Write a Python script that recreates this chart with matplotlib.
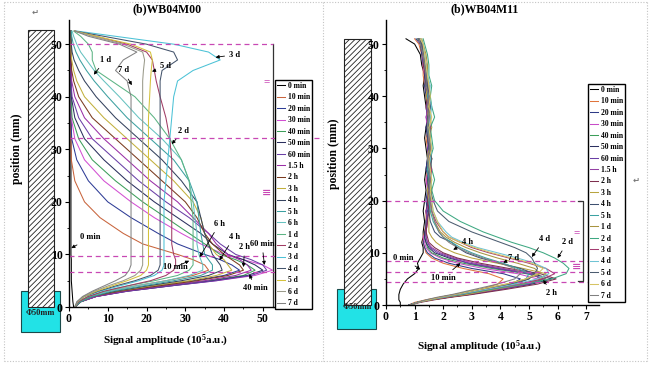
import matplotlib.pyplot as plt
import matplotlib.ticker as mticker
from matplotlib.patches import Rectangle
from matplotlib.lines import Line2D

# --- fontes (serif negrito, como no original) ---
plt.rcParams['font.family'] = ['Liberation Serif', 'DejaVu Serif']
plt.rcParams['font.weight'] = 'bold'
plt.rcParams['axes.labelweight'] = 'bold'
plt.rcParams['mathtext.fontset'] = 'custom'
plt.rcParams['mathtext.rm'] = 'Liberation Serif:bold'
plt.rcParams['mathtext.it'] = 'Liberation Serif:bold'
plt.rcParams['mathtext.bf'] = 'Liberation Serif:bold'
plt.rcParams['hatch.linewidth'] = 0.6

# ================= dados: WB04M00 (painel esquerdo) =================
pos_m00 = [0, 1, 2, 3, 4, 5, 6, 7, 8, 9, 10, 12, 14, 17, 20, 24, 28, 32, 36, 40, 43, 45, 47, 48.5, 50, 51.5, 52.5]

m00_0min = [1.2, 1.0, 0.9, 0.8, 0.7, 0.6, 0.6, 0.6, 0.6, 0.6, 0.5, 0.5, 0.5, 0.5, 0.5, 0.5, 0.5, 0.5, 0.5, 0.5, 0.5, 0.5, 0.5, 0.5, 0.5, 0.5, 0.6]
m00_10min = [1.5, 2.5, 5, 10, 17, 25, 32, 36, 35, 32, 28, 19, 14, 8, 4, 1.5, 0.6, 0.5, 0.5, 0.5, 0.5, 0.5, 0.5, 0.5, 0.5, 0.5, 0.5]
m00_20min = [1.5, 3, 6, 13, 22, 32, 40, 44, 42, 39, 35, 28, 23, 16, 10, 5, 2, 0.7, 0.5, 0.5, 0.5, 0.5, 0.5, 0.5, 0.5, 0.5, 0.5]
m00_30min = [1.5, 3, 7, 15, 26, 38, 48, 52.5, 50, 45, 40, 34, 29, 22, 16, 9, 4, 1.5, 0.6, 0.5, 0.5, 0.5, 0.5, 0.5, 0.5, 0.5, 0.5]
m00_40min = [1.5, 3, 7, 14, 25, 36, 45, 48, 46, 43, 39, 35, 31, 25, 19, 12, 6, 2.5, 0.8, 0.5, 0.5, 0.5, 0.5, 0.5, 0.5, 0.5, 0.5]
m00_50min = [1.5, 3, 7, 15, 26, 37, 46, 50, 48, 45, 41, 37, 34, 28, 22, 15, 9, 4, 1.5, 0.6, 0.5, 0.5, 0.5, 0.5, 0.5, 0.5, 0.5]
m00_60min = [1.5, 3, 7, 15, 26, 38, 47, 51, 50, 47, 43, 39, 36, 31, 25, 18, 12, 6, 2.5, 0.8, 0.5, 0.5, 0.5, 0.5, 0.5, 0.5, 0.5]
m00_1h5 = [1.5, 3, 7, 14, 24, 35, 43, 47, 46, 44, 41, 38, 36, 32, 28, 21, 15, 9, 4, 1.5, 0.7, 0.5, 0.5, 0.5, 0.5, 0.5, 0.5]
m00_2h = [1.5, 3, 6, 13, 23, 33, 41, 45, 44, 42, 40, 37, 35, 33, 30, 24, 18, 12, 6, 2.5, 1.2, 0.7, 0.5, 0.5, 0.5, 0.5, 0.5]
m00_3h = [1.5, 3, 6, 12, 21, 31, 38, 42, 41, 40, 38, 36, 35, 34, 32, 27, 21, 15, 9, 4, 2, 1.2, 0.7, 0.5, 0.5, 0.5, 0.5]
m00_4h = [1.5, 3, 6, 12, 20, 29, 36, 39.5, 39, 38, 37, 36, 35, 34, 33, 29, 24, 18, 12, 7, 4, 2.5, 1.3, 0.8, 0.6, 0.5, 0.5]
m00_5h = [1.5, 3, 6, 11, 19, 27, 34, 37, 37, 36, 35, 34.5, 34, 33.5, 33, 31, 27, 21, 15, 10, 6.5, 4.5, 2.8, 1.8, 1.1, 0.7, 0.6]
m00_6h = [1.5, 2.5, 5, 10, 17, 25, 31, 34.5, 34.5, 34, 33.5, 33, 33, 32.5, 32, 31, 29, 24, 18, 13, 9, 6.5, 4.5, 3, 2, 1.2, 0.8]
m00_1d = [1.5, 2.5, 5, 9, 15, 22, 28, 31, 32, 32, 32, 32, 32, 32, 31.5, 31, 29, 26, 22, 17, 11, 7, 6, 6, 5, 3, 1.2]
m00_2d = [1.5, 2.5, 5, 9, 15, 21, 25, 27, 27.5, 27.5, 27, 26.5, 26.5, 26.5, 26.5, 26.5, 26.5, 26, 25, 23.5, 22.5, 22, 21.5, 20, 15, 7, 1.5]
m00_3d = [1.5, 2.2, 4, 8, 13, 18, 22, 24, 24.5, 24.5, 24.5, 24.5, 24.5, 24.5, 24.5, 25, 25.5, 26, 26.5, 27, 28, 32, 39, 36, 27, 12, 2]
m00_4d = [1.5, 2.2, 4, 7.5, 12, 17, 21, 23, 23.5, 23.5, 23.5, 23.5, 23.5, 23.5, 23.5, 23.5, 23.5, 23.5, 23.5, 23.5, 23.5, 24, 28, 27, 20, 9, 1.5]
m00_5d = [1.5, 2.2, 4, 7, 11, 15, 18.5, 20, 20.5, 20.5, 20.5, 20.5, 20.5, 20.5, 20.5, 20.5, 20.5, 20.5, 20.5, 20.8, 21, 21.2, 21.5, 21, 16, 7, 1.5]
m00_6d = [1.5, 2.2, 3.8, 6.5, 10, 14, 17, 18.5, 19, 19, 19, 19, 19, 19, 19, 19, 19, 19, 19, 19, 19, 19.2, 19.5, 19, 14, 6, 1.5]
m00_7d = [1.5, 2, 3.5, 6, 9, 12, 14.5, 15.5, 16, 16, 16, 16, 16, 16, 16, 16, 16, 16, 16, 16, 15, 12, 14, 17.5, 13, 5, 1.5]

m00_labels = ['0 min', '10 min', '20 min', '30 min', '40 min', '50 min', '60 min', '1.5 h', '2 h', '3 h',
              '4 h', '5 h', '6 h', '1 d', '2 d', '3 d', '4 d', '5 d', '6 d', '7 d']
m00_colors = ['#000000', '#c8643c', '#2e3c96', '#d24fd2', '#3c9e5a', '#2a2f5e', '#6a3fa6', '#9a2fa6',
              '#7a3a1e', '#c2b03c', '#34425e', '#3ca0a0', '#66c2c0', '#5cb484', '#a03c64', '#4cc2d6',
              '#44546c', '#d4c23c', '#9a9a8a', '#828282']
m00_refs = [50, 32.1, 9.7, 6.7]

# ================= dados: WB04M11 (painel direito) =================
pos_m11 = [0, 0.5, 1, 1.5, 2, 3, 4, 5, 6, 7, 8, 9, 10, 11, 12, 13, 14, 16, 18, 20,
           22, 24, 26, 28, 30, 32, 34, 36, 38, 40, 42, 44, 46, 48, 50, 51]

m11_0min = [0.5, 0.5, 0.45, 0.45, 0.45, 0.5, 0.6, 0.75, 1.0, 1.15, 1.1, 1.2, 1.3, 1.3, 1.25, 1.3, 1.3, 1.35, 1.3, 1.35,
            1.4, 1.35, 1.4, 1.45, 1.4, 1.35, 1.4, 1.45, 1.4, 1.35, 1.3, 1.35, 1.25, 1.2, 1.0, 0.7]
m11_10min = [0.8, 1.0, 1.4, 1.9, 2.4, 3.3, 3.9, 4.1, 3.6, 2.7, 2.0, 1.6, 1.4, 1.35, 1.3, 1.3, 1.35, 1.4, 1.4, 1.45,
             1.5, 1.4, 1.45, 1.5, 1.45, 1.4, 1.5, 1.45, 1.4, 1.45, 1.35, 1.3, 1.3, 1.25, 1.15, 1.0]
m11_20min = [0.8, 1.1, 1.5, 2.0, 2.6, 3.6, 4.4, 4.7, 4.1, 3.0, 2.2, 1.7, 1.45, 1.35, 1.3, 1.35, 1.4, 1.4, 1.45, 1.4,
             1.45, 1.5, 1.4, 1.45, 1.5, 1.45, 1.4, 1.5, 1.45, 1.4, 1.35, 1.4, 1.3, 1.25, 1.2, 1.05]
m11_30min = [0.8, 1.1, 1.5, 2.1, 2.7, 3.8, 4.8, 5.3, 4.6, 3.4, 2.5, 1.9, 1.55, 1.4, 1.35, 1.3, 1.4, 1.45, 1.4, 1.5,
             1.45, 1.4, 1.5, 1.55, 1.45, 1.5, 1.45, 1.4, 1.5, 1.45, 1.4, 1.35, 1.3, 1.3, 1.2, 1.1]
m11_40min = [0.8, 1.1, 1.5, 2.1, 2.8, 3.9, 5.0, 5.6, 4.9, 3.7, 2.7, 2.0, 1.6, 1.45, 1.4, 1.35, 1.4, 1.4, 1.5, 1.45,
             1.55, 1.5, 1.45, 1.6, 1.5, 1.45, 1.5, 1.55, 1.45, 1.5, 1.4, 1.45, 1.35, 1.3, 1.25, 1.1]
m11_50min = [0.8, 1.1, 1.6, 2.2, 2.9, 4.0, 5.1, 5.8, 5.1, 3.9, 2.9, 2.2, 1.7, 1.5, 1.4, 1.35, 1.35, 1.45, 1.4, 1.5,
             1.45, 1.55, 1.5, 1.45, 1.55, 1.5, 1.4, 1.5, 1.55, 1.45, 1.4, 1.35, 1.4, 1.3, 1.2, 1.15]
m11_60min = [0.85, 1.1, 1.6, 2.2, 2.9, 4.0, 5.0, 5.5, 5.0, 3.9, 2.9, 2.3, 1.8, 1.55, 1.45, 1.4, 1.4, 1.4, 1.5, 1.45,
             1.5, 1.45, 1.55, 1.5, 1.45, 1.55, 1.5, 1.45, 1.4, 1.5, 1.45, 1.4, 1.35, 1.35, 1.25, 1.2]
m11_1h5 = [0.85, 1.1, 1.6, 2.2, 2.8, 3.9, 4.9, 5.4, 5.1, 4.1, 3.1, 2.4, 1.9, 1.6, 1.45, 1.4, 1.4, 1.45, 1.4, 1.55,
           1.5, 1.45, 1.5, 1.6, 1.5, 1.45, 1.5, 1.4, 1.5, 1.45, 1.5, 1.4, 1.35, 1.3, 1.25, 1.2]
m11_2h = [0.85, 1.2, 1.7, 2.3, 3.0, 4.2, 5.3, 5.95, 5.4, 4.3, 3.3, 2.5, 2.0, 1.7, 1.5, 1.45, 1.4, 1.45, 1.5, 1.45,
          1.5, 1.55, 1.45, 1.5, 1.6, 1.5, 1.45, 1.5, 1.45, 1.4, 1.45, 1.4, 1.3, 1.35, 1.25, 1.15]
m11_3h = [0.85, 1.1, 1.6, 2.1, 2.8, 3.8, 4.8, 5.4, 5.6, 4.8, 3.9, 3.0, 2.4, 2.0, 1.75, 1.6, 1.5, 1.5, 1.55, 1.5,
          1.45, 1.5, 1.55, 1.45, 1.5, 1.55, 1.5, 1.45, 1.5, 1.4, 1.45, 1.4, 1.35, 1.3, 1.25, 1.2]
m11_4h = [0.85, 1.1, 1.5, 2.0, 2.6, 3.6, 4.5, 5.0, 5.2, 4.7, 4.0, 3.3, 2.8, 2.5, 2.3, 1.9, 1.7, 1.55, 1.5, 1.55,
          1.5, 1.45, 1.5, 1.55, 1.5, 1.45, 1.5, 1.55, 1.45, 1.5, 1.4, 1.45, 1.35, 1.3, 1.2, 1.15]
m11_5h = [0.85, 1.1, 1.5, 2.0, 2.5, 3.5, 4.4, 4.9, 5.0, 4.6, 4.1, 3.5, 3.0, 2.6, 2.3, 2.0, 1.85, 1.65, 1.55, 1.5,
          1.55, 1.5, 1.45, 1.5, 1.55, 1.5, 1.45, 1.5, 1.55, 1.45, 1.5, 1.4, 1.4, 1.35, 1.25, 1.2]
m11_1d = [0.85, 1.1, 1.5, 1.9, 2.4, 3.3, 4.2, 4.9, 5.4, 5.2, 4.6, 3.9, 3.3, 2.8, 2.4, 2.1, 1.9, 1.7, 1.6, 1.55,
          1.6, 1.55, 1.5, 1.6, 1.55, 1.5, 1.6, 1.55, 1.5, 1.55, 1.5, 1.45, 1.45, 1.4, 1.3, 1.25]
m11_2d = [0.85, 1.1, 1.5, 2.0, 2.6, 3.7, 4.8, 5.8, 6.3, 6.4, 6.2, 5.9, 5.5, 5.0, 4.4, 3.9, 3.4, 2.6, 2.0, 1.7,
          1.6, 1.7, 1.6, 1.55, 1.65, 1.6, 1.55, 1.7, 1.6, 1.55, 1.6, 1.5, 1.5, 1.45, 1.35, 1.3]
m11_3d = [0.85, 1.1, 1.5, 2.0, 2.5, 3.5, 4.6, 5.5, 5.9, 5.6, 5.0, 4.3, 3.6, 3.0, 2.6, 2.2, 2.0, 1.75, 1.6, 1.55,
          1.5, 1.55, 1.6, 1.5, 1.55, 1.5, 1.55, 1.5, 1.45, 1.5, 1.45, 1.4, 1.4, 1.3, 1.25, 1.2]
m11_4d = [0.85, 1.1, 1.5, 2.0, 2.5, 3.5, 4.5, 5.3, 5.7, 5.6, 5.2, 4.6, 3.9, 3.2, 2.7, 2.3, 2.1, 1.8, 1.65, 1.6,
          1.55, 1.6, 1.5, 1.55, 1.6, 1.55, 1.5, 1.55, 1.6, 1.5, 1.55, 1.45, 1.4, 1.35, 1.3, 1.2]
m11_5d = [0.85, 1.1, 1.5, 1.9, 2.4, 3.3, 4.3, 5.0, 5.2, 5.3, 5.2, 5.1, 4.9, 4.5, 4.0, 3.5, 3.0, 2.2, 1.8, 1.65,
          1.55, 1.5, 1.55, 1.6, 1.5, 1.55, 1.5, 1.45, 1.55, 1.5, 1.45, 1.4, 1.35, 1.3, 1.25, 1.15]
m11_6d = [0.85, 1.1, 1.5, 1.9, 2.4, 3.3, 4.2, 4.9, 5.3, 5.5, 5.1, 4.4, 3.7, 3.1, 2.6, 2.2, 2.0, 1.8, 1.65, 1.6,
          1.55, 1.6, 1.55, 1.5, 1.6, 1.55, 1.5, 1.6, 1.5, 1.55, 1.5, 1.45, 1.4, 1.35, 1.3, 1.2]
m11_7d = [0.85, 1.1, 1.4, 1.8, 2.3, 3.1, 3.9, 4.5, 4.7, 4.5, 4.0, 3.4, 2.9, 2.5, 2.2, 2.0, 1.85, 1.7, 1.6, 1.55,
          1.5, 1.55, 1.5, 1.45, 1.55, 1.5, 1.45, 1.5, 1.45, 1.5, 1.4, 1.4, 1.35, 1.3, 1.2, 1.15]

m11_labels = ['0 min', '10 min', '20 min', '30 min', '40 min', '50 min', '60 min', '1.5 h', '2 h', '3 h',
              '4 h', '5 h', '1 d', '2 d', '3 d', '4 d', '5 d', '6 d', '7 d']
m11_colors = ['#000000', '#e0743c', '#2e3a86', '#c84cc8', '#3c9e5a', '#2c3060', '#6a3fa6', '#9440a4',
              '#7e2f4e', '#b8a440', '#3e5070', '#3ca2a2', '#a89440', '#3ea882', '#a43c70', '#70c4d4',
              '#4c5c70', '#d6c464', '#808080']
m11_refs = [20, 8.4, 6.4, 4.4]

W, H = 650, 366


def fx(px):
    return px / W


def fy(py):
    return 1 - py / H


def desenhar_coluna(fig, rect, caixa, texto_y, cx):
    # caixa ciano (reservatorio) por baixo da coluna hachurada; tudo atras dos eixos
    fig.add_artist(Rectangle((fx(caixa[0]), fy(caixa[3])), fx(caixa[2] - caixa[0]), (caixa[3] - caixa[1]) / H,
                             transform=fig.transFigure, facecolor='#22e2e6', edgecolor='#1a4a4a', lw=0.8,
                             zorder=-2))
    fig.add_artist(Rectangle((fx(rect[0]), fy(rect[3])), fx(rect[2] - rect[0]), (rect[3] - rect[1]) / H,
                             transform=fig.transFigure, facecolor='white', edgecolor='#222222', lw=0.8,
                             hatch='//////', zorder=-1))
    fig.text(fx(cx), fy(texto_y), '\u03a650mm', fontsize=6, ha='center', va='center', color='#222222')


def desenhar_painel(ax, pos, curvas, rotulos, cores, xmax, xstep, ymax):
    for vals, rot, cor in zip(curvas, rotulos, cores):
        ax.plot(vals, pos, color=cor, lw=0.75, label=rot)
    ax.set_xlim(0, xmax)
    ax.set_ylim(0, ymax)
    ax.spines['top'].set_visible(False)
    ax.spines['right'].set_visible(False)
    for s in ('left', 'bottom'):
        ax.spines[s].set_linewidth(1.0)
    ax.xaxis.set_major_locator(mticker.MultipleLocator(xstep))
    ax.xaxis.set_minor_locator(mticker.MultipleLocator(xstep / 2))
    ax.set_xticks([t for t in ax.get_xticks() if t <= xmax - xstep * 0.4 and t >= 0])
    ax.yaxis.set_major_locator(mticker.FixedLocator([0, 10, 20, 30, 40, 50]))
    ax.yaxis.set_minor_locator(mticker.FixedLocator([5, 15, 25, 35, 45]))
    ax.tick_params(which='major', direction='out', length=3, width=0.8, labelsize=8.5, pad=1.5)
    ax.tick_params(which='minor', direction='out', length=1.5, width=0.6)
    ax.xaxis.set_major_formatter(mticker.FuncFormatter(lambda v, _: '{:g}'.format(v)))


def anotar(ax, itens):
    for txt, xyt, xy in itens:
        ax.annotate(txt, xy=xy, xytext=xyt, fontsize=6, ha='center', va='center',
                    arrowprops=dict(arrowstyle='-|>', color='k', lw=0.6, mutation_scale=5,
                                    shrinkA=1.5, shrinkB=0))


if __name__ == "__main__":
    fig = plt.figure(figsize=(6.5, 3.66), dpi=100)

    # molduras pontilhadas do documento
    for xs, ys in [((4, 647), (2, 2)), ((4, 647), (361, 361)), ((4, 4), (2, 361)),
                   ((323, 323), (2, 361)), ((647, 647), (2, 361))]:
        fig.add_artist(Line2D([fx(xs[0]), fx(xs[1])], [fy(ys[0]), fy(ys[1])], transform=fig.transFigure,
                              ls=(0, (1, 1.5)), color='#c4c4c4', lw=0.8, zorder=-3))

    desenhar_coluna(fig, (28, 30, 54, 307), (21, 291, 60, 332), 313, 40)
    desenhar_coluna(fig, (344, 39, 371, 305), (337, 289, 376, 329), 307, 357)

    # ---------------- painel esquerdo ----------------
    ax1 = fig.add_axes([fx(69), fy(307), (283 - 69) / W, (307 - 20) / H])
    ax1.patch.set_alpha(0)
    curvas_m00 = [m00_0min, m00_10min, m00_20min, m00_30min, m00_40min, m00_50min, m00_60min, m00_1h5,
                  m00_2h, m00_3h, m00_4h, m00_5h, m00_6h, m00_1d, m00_2d, m00_3d, m00_4d, m00_5d, m00_6d, m00_7d]
    desenhar_painel(ax1, pos_m00, curvas_m00, m00_labels, m00_colors, 55.2, 10, 54.6)
    rosa = '#c848b4'
    ax1.plot([52.6, 52.6], [0, 50], color='#333333', lw=0.9, clip_on=False)
    ax1.plot([0, 52.6], [m00_refs[0]] * 2, ls=(0, (4, 3)), color=rosa, lw=0.9)
    ax1.plot([0, 65.2], [m00_refs[1]] * 2, ls=(0, (4, 3)), color=rosa, lw=0.9, clip_on=False)
    ax1.plot([0, 53.5], [m00_refs[2]] * 2, ls=(0, (4, 3)), color=rosa, lw=0.9)
    ax1.plot([0, 53.5], [m00_refs[3]] * 2, ls=(0, (4, 3)), color=rosa, lw=0.9)
    ax1.text(51, 42.8, '=', color=rosa, fontsize=8, ha='center', va='center', clip_on=False)
    ax1.text(51, 21.7, '\u2261', color=rosa, fontsize=8, ha='center', va='center', clip_on=False,
             family='DejaVu Sans')
    anotar(ax1, [('0 min', (5.6, 13.3), (0.6, 11.2)),
                 ('10 min', (27.5, 7.6), (31.0, 8.8)),
                 ('40 min', (48.2, 3.6), (46.5, 6.2)),
                 ('60 min', (49.8, 12.0), (50.4, 8.0)),
                 ('2 h', (45.3, 11.4), (45.0, 7.6)),
                 ('4 h', (42.6, 13.3), (38.8, 8.9)),
                 ('6 h', (38.8, 15.8), (33.7, 9.5)),
                 ('3 d', (42.8, 48.0), (37.8, 47.5)),
                 ('1 d', (9.4, 47.0), (6.4, 44.2)),
                 ('7 d', (14.0, 45.0), (16.2, 42.2)),
                 ('5 d', (25.0, 45.8), (21.4, 44.8)),
                 ('2 d', (29.5, 33.5), (26.5, 31.0))])
    ax1.set_ylabel('position (mm)', fontsize=8.5)
    ax1.yaxis.set_label_coords(-0.215, 0.55)
    ax1.set_xlabel('Signal amplitude (10$^5$a.u.)', fontsize=8)
    ax1.xaxis.set_label_coords(0.45, -0.09)
    fig.text(fx(167), fy(9), '(b)WB04M00', fontsize=8.5, ha='center', va='center')
    ax1.legend(loc='upper left', bbox_to_anchor=(fx(275), fy(80)), bbox_transform=fig.transFigure,
               fontsize=5.5, fancybox=False, edgecolor='k', framealpha=1, handlelength=1.1,
               handletextpad=0.3, labelspacing=0.45, borderpad=0.25, borderaxespad=0)

    # ---------------- painel direito ----------------
    ax2 = fig.add_axes([fx(386), fy(305), (599 - 386) / W, (305 - 20) / H])
    ax2.patch.set_alpha(0)
    curvas_m11 = [m11_0min, m11_10min, m11_20min, m11_30min, m11_40min, m11_50min, m11_60min, m11_1h5,
                  m11_2h, m11_3h, m11_4h, m11_5h, m11_1d, m11_2d, m11_3d, m11_4d, m11_5d, m11_6d, m11_7d]
    desenhar_painel(ax2, pos_m11, curvas_m11, m11_labels, m11_colors, 7.45, 1, 54.6)
    ax2.plot([0, 6.82], [m11_refs[0]] * 2, ls=(0, (4, 3)), color=rosa, lw=0.9)
    for r in m11_refs[1:]:
        ax2.plot([0, 7.25], [r] * 2, ls=(0, (4, 3)), color=rosa, lw=0.9)
    ax2.plot([6.72, 6.88, 6.88, 6.72], [20, 20, 4.6, 4.6], color='#333333', lw=0.9)
    ax2.text(6.68, 13.8, '=', color=rosa, fontsize=8, ha='center', va='center')
    ax2.text(6.68, 7.3, '\u2261', color=rosa, fontsize=8, ha='center', va='center', family='DejaVu Sans')
    anotar(ax2, [('0 min', (0.6, 9.0), (1.2, 6.8)),
                 ('10 min', (2.0, 5.2), (2.6, 8.0)),
                 ('4 h', (2.85, 12.0), (2.35, 10.6)),
                 ('7 d', (4.45, 9.0), (4.1, 8.1)),
                 ('4 d', (5.55, 12.6), (5.1, 9.2)),
                 ('2 d', (6.35, 12.0), (6.0, 9.0)),
                 ('2 h', (5.8, 2.3), (5.5, 4.8))])
    ax2.set_ylabel('position (mm)', fontsize=8.5)
    ax2.yaxis.set_label_coords(-0.216, 0.53)
    ax2.set_xlabel('Signal amplitude (10$^5$a.u.)', fontsize=8)
    ax2.xaxis.set_label_coords(0.44, -0.12)
    fig.text(fx(485), fy(9), '(b)WB04M11', fontsize=8.5, ha='center', va='center')
    ax2.legend(loc='upper left', bbox_to_anchor=(fx(588), fy(84)), bbox_transform=fig.transFigure,
               fontsize=5.5, fancybox=False, edgecolor='k', framealpha=1, handlelength=1.1,
               handletextpad=0.3, labelspacing=0.45, borderpad=0.25, borderaxespad=0)

    # marcas de paragrafo do documento
    fig.text(fx(35), fy(12), '\u21b5', fontsize=6, color='#777777', family='DejaVu Sans', ha='center', va='center')
    fig.text(fx(636), fy(180), '\u21b5', fontsize=6, color='#777777', family='DejaVu Sans', ha='center', va='center')

    fig.savefig('out.png', dpi=100)
    plt.close(fig)
